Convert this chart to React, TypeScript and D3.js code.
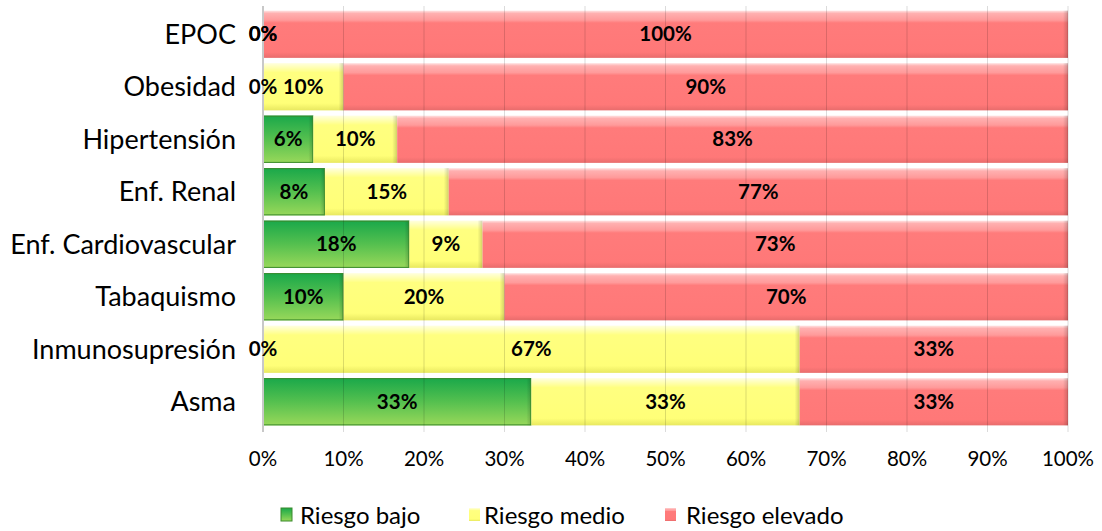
import React from "react";
import * as d3 from "d3";

// Risk distribution by comorbidity (shares of each row sum to 1)
const categories = [
  "EPOC",
  "Obesidad",
  "Hipertensión",
  "Enf. Renal",
  "Enf. Cardiovascular",
  "Tabaquismo",
  "Inmunosupresión",
  "Asma",
];
const riesgoBajo = [0, 0, 3 / 48, 1 / 13, 2 / 11, 0.1, 0, 1 / 3];
const riesgoMedio = [0, 0.1, 5 / 48, 2 / 13, 1 / 11, 0.2, 2 / 3, 1 / 3];
const riesgoElevado = [1, 0.9, 40 / 48, 10 / 13, 8 / 11, 0.7, 1 / 3, 1 / 3];
const seriesNames = ["Riesgo bajo", "Riesgo medio", "Riesgo elevado"];
const xTicks = [0, 0.1, 0.2, 0.3, 0.4, 0.5, 0.6, 0.7, 0.8, 0.9, 1];

const WIDTH = 1102;
const HEIGHT = 531;
const FONT = "Lato, 'Open Sans', sans-serif";

const margin = { left: 263, right: 34, top: 8, bottom: 103 };

export default function App() {
  const x = d3
    .scaleLinear()
    .domain([0, 1])
    .range([margin.left, WIDTH - margin.right]);
  const y = d3
    .scaleBand<string>()
    .domain(categories)
    .range([margin.top, HEIGHT - margin.bottom])
    .paddingInner(0.1)
    .paddingOuter(0.05);

  const rows = categories.map((c, i) => ({
    cat: c,
    bajo: riesgoBajo[i],
    medio: riesgoMedio[i],
    elevado: riesgoElevado[i],
  }));
  const stack = d3.stack<any>().keys(["bajo", "medio", "elevado"]);
  const stacked = stack(rows);
  const fills = ["url(#gBajo)", "url(#gMedio)", "url(#gElevado)"];
  const edges = ["#3a8a2c", "#d8d860", "#e06a6a"];
  const pct = d3.format(".0%");

  const bw = y.bandwidth();

  return (
    <svg width={WIDTH} height={HEIGHT} style={{ display: "block", position: "absolute", left: 0, top: 0 }}>
      <defs>
        <linearGradient id="gBajo" x1="0" y1="0" x2="0" y2="1">
          <stop offset="0" stopColor="#1aa84a" />
          <stop offset="0.5" stopColor="#55c04f" />
          <stop offset="1" stopColor="#98d85a" />
        </linearGradient>
        <linearGradient id="gMedio" x1="0" y1="0" x2="0" y2="1">
          <stop offset="0" stopColor="#ffffe0" />
          <stop offset="0.1" stopColor="#ffffb0" />
          <stop offset="0.2" stopColor="#ffff80" />
          <stop offset="0.85" stopColor="#ffff78" />
          <stop offset="1" stopColor="#e8e860" />
        </linearGradient>
        <linearGradient id="gElevado" x1="0" y1="0" x2="0" y2="1">
          <stop offset="0" stopColor="#ffe4e4" />
          <stop offset="0.06" stopColor="#ffb0b0" />
          <stop offset="0.2" stopColor="#ff9a9a" />
          <stop offset="0.26" stopColor="#ff7b7b" />
          <stop offset="0.88" stopColor="#ff7878" />
          <stop offset="1" stopColor="#e86c6c" />
        </linearGradient>
        <linearGradient id="edgeShade" x1="0" y1="0" x2="1" y2="0">
          <stop offset="0" stopColor="#000" stopOpacity="0" />
          <stop offset="1" stopColor="#000" stopOpacity="0.18" />
        </linearGradient>
      </defs>

      {/* bars */}
      {stacked.map((s, si) => (
        <g key={si}>
          {s.map((d, i) => {
            const x0 = x(d[0]);
            const x1 = x(d[1]);
            const w = x1 - x0;
            if (w <= 0) return null;
            const yy = y(categories[i])!;
            return (
              <g key={i}>
                <rect x={x0} y={yy} width={w} height={bw} fill={fills[si]} />
                <rect x={x1 - 5} y={yy} width={5} height={bw} fill="url(#edgeShade)" />
                {si === 0 && (
                  <rect x={x0 + 0.5} y={yy + 0.5} width={w - 1} height={bw - 1} fill="none" stroke={edges[si]} strokeWidth={1} />
                )}
              </g>
            );
          })}
        </g>
      ))}

      {/* gridlines */}
      {xTicks.map((t) => (
        <line
          key={t}
          x1={x(t)}
          x2={x(t)}
          y1={margin.top - 2}
          y2={HEIGHT - margin.bottom + 4}
          stroke={t === 0 ? "#c8c8c8" : "#000"}
          strokeOpacity={t === 0 ? 1 : 0.14}
          strokeWidth={t === 0 ? 2 : 1}
        />
      ))}

      {/* value labels */}
      {stacked.map((s, si) => (
        <g key={"l" + si}>
          {s.map((d, i) => {
            const cx = (x(d[0]) + x(d[1])) / 2;
            const cy = y(categories[i])! + bw / 2;
            return (
              <text
                key={i}
                x={cx}
                y={cy}
                dy="0.35em"
                textAnchor="middle"
                fontFamily={FONT}
                fontWeight={700}
                fontSize={20.5}
                fill="#000"
              >
                {pct(d[1] - d[0])}
              </text>
            );
          })}
        </g>
      ))}

      {/* category axis */}
      {categories.map((c) => (
        <text
          key={c}
          x={margin.left - 27}
          y={y(c)! + bw / 2}
          dy="0.35em"
          textAnchor="end"
          fontFamily={FONT}
          fontSize={27}
          fill="#000"
        >
          {c}
        </text>
      ))}

      {/* value axis */}
      {xTicks.map((t) => (
        <text
          key={"t" + t}
          x={x(t)}
          y={459}
          dy="0.35em"
          textAnchor="middle"
          fontFamily={FONT}
          fontSize={20.5}
          fill="#000"
        >
          {pct(t)}
        </text>
      ))}

      {/* legend */}
      {seriesNames.map((n, i) => {
        const lx = [281, 469, 665][i];
        const tx = [300, 484, 686][i];
        return (
          <g key={n}>
            <rect x={lx} y={508} width={11} height={13} fill={fills[i]} stroke={i === 0 ? edges[0] : "none"} />
            <text x={tx} y={516} dy="0.35em" fontFamily={FONT} fontSize={24} fill="#000">
              {n}
            </text>
          </g>
        );
      })}
    </svg>
  );
}
